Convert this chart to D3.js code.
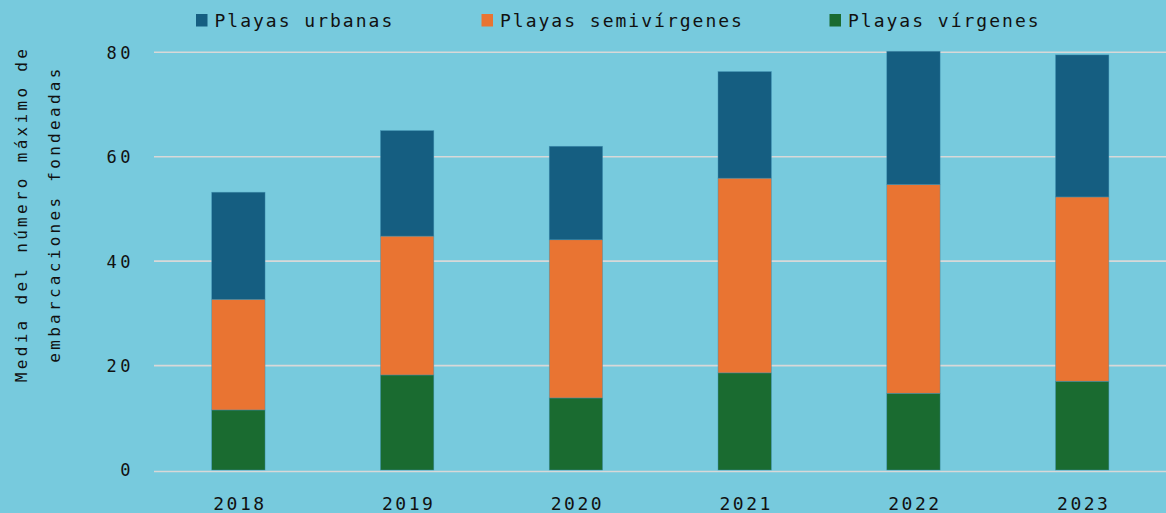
<!DOCTYPE html>
<html>
<head>
<meta charset="utf-8">
<script src="https://cdn.jsdelivr.net/npm/d3@7"></script>
<style>
  html, body { margin: 0; padding: 0; background: #77cadd; }
  svg { display: block; }
  text { font-family: "DejaVu Sans Mono", monospace; fill: #111; }
</style>
</head>
<body>
<svg id="chart" width="1166" height="513"></svg>
<script>
const years = ["2018", "2019", "2020", "2021", "2022", "2023"];
const seriesNames = ["Playas vírgenes", "Playas semivírgenes", "Playas urbanas"];
const virgenes     = [11.5, 18.2, 13.8, 18.6, 14.7, 17.0];
const semivirgenes = [21.2, 26.6, 30.3, 37.3, 40.0, 35.3];
const urbanas      = [20.5, 20.2, 17.9, 20.4, 25.5, 27.2];
const yTicks = [0, 20, 40, 60, 80];
const legendOrder = ["Playas urbanas", "Playas semivírgenes", "Playas vírgenes"];
const colors = {"Playas urbanas": "#155e81", "Playas semivírgenes": "#e97432", "Playas vírgenes": "#1a6b30"};
const yTitle = ["Media del número máximo de", "embarcaciones fondeadas"];

const svg = d3.select("#chart");
const W = 1166, H = 513;
const mLeft = 154, mRight = 1166.6, mTop = 52.3, mBottom = 470;

const rows = years.map((y, i) => ({
  year: y,
  "Playas vírgenes": virgenes[i],
  "Playas semivírgenes": semivirgenes[i],
  "Playas urbanas": urbanas[i]
}));
const stacked = d3.stack().keys(seriesNames)(rows);

const x = d3.scaleBand().domain(years).range([mLeft, mRight]).paddingInner(0.684).paddingOuter(0.342);
const y = d3.scaleLinear().domain([0, 80]).range([mBottom, mTop]);

// gridlines
svg.append("g").selectAll("line").data(yTicks).join("line")
  .attr("x1", mLeft).attr("x2", W)
  .attr("y1", d => y(d) + (d === 0 ? 1.5 : 0)).attr("y2", d => y(d) + (d === 0 ? 1.5 : 0))
  .attr("stroke", "#d8d8d8").attr("stroke-width", 1.6);

// y tick labels
const yAxis = d3.axisLeft(y).tickValues(yTicks).tickSize(0).tickPadding(0);
const gy = svg.append("g").attr("transform", `translate(134,0)`).call(yAxis);
gy.select(".domain").remove();
gy.selectAll("text").style("font-family", "DejaVu Sans Mono, monospace").style("font-size", "17px")
  .style("letter-spacing", "3.5px").attr("fill", "#111").attr("dy", "0.35em");

// bars
svg.append("g").selectAll("g").data(stacked).join("g")
  .attr("fill", d => colors[d.key])
  .selectAll("rect").data(d => d).join("rect")
  .attr("x", d => x(d.data.year))
  .attr("width", x.bandwidth())
  .attr("y", d => y(d[1]))
  .attr("height", d => y(d[0]) - y(d[1]))
  .attr("stroke", "#3f8fb0").attr("stroke-width", 0.6).attr("stroke-opacity", 0.7);

// x tick labels
const xAxis = d3.axisBottom(x).tickSize(0).tickPadding(0);
const gx = svg.append("g").attr("transform", `translate(1.5,${mBottom + 27})`).call(xAxis);
gx.select(".domain").remove();
gx.selectAll("text").style("font-family", "DejaVu Sans Mono, monospace").style("font-size", "18px")
  .style("letter-spacing", "2.5px").attr("fill", "#111");

// y title
const yt = svg.append("text").attr("transform", `translate(0,214) rotate(-90)`)
  .attr("text-anchor", "middle").style("font-size", "16px").style("letter-spacing", "3.3px");
yt.append("tspan").attr("x", 0).attr("y", 27).text(yTitle[0]);
yt.append("tspan").attr("x", 0).attr("y", 60).text(yTitle[1]);

// legend
const legendX = [196, 481.5, 829.5];
const lg = svg.append("g").selectAll("g").data(legendOrder).join("g")
  .attr("transform", (d, i) => `translate(${legendX[i]},0)`);
lg.append("rect").attr("x", 0).attr("y", 14).attr("width", 11.5).attr("height", 12.5).attr("fill", d => colors[d]);
lg.append("text").attr("x", 18.5).attr("y", 27).style("font-size", "18px").style("letter-spacing", "2px").text(d => d);
</script>
</body>
</html>
